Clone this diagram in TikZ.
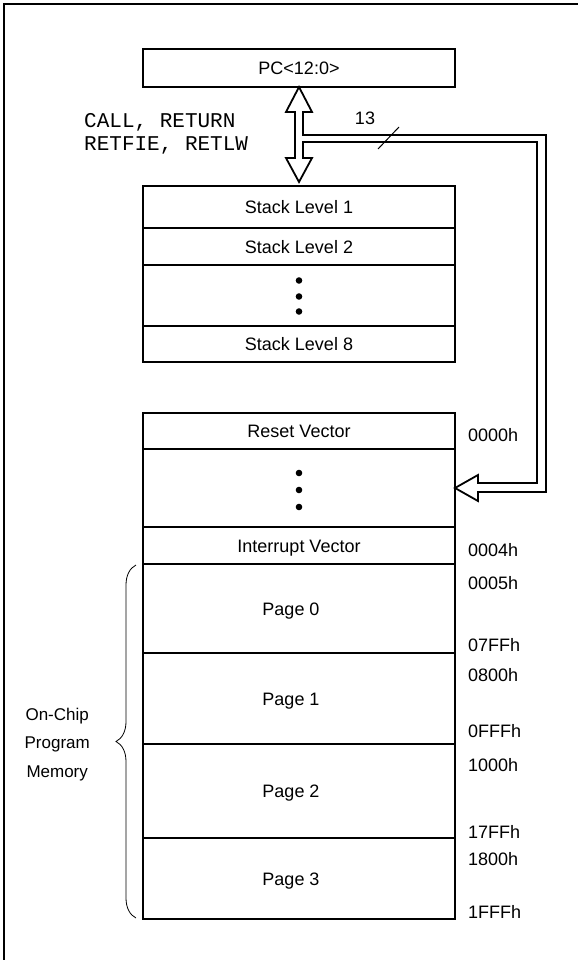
\documentclass[tikz,border=0pt]{standalone}
\usepackage{fontspec}
\setmainfont{Liberation Sans}
\setmonofont{Liberation Mono}
\usetikzlibrary{positioning,calc,decorations.pathreplacing}

\tikzset{
  cell/.style={draw, line width=1.8pt, minimum width=312pt, inner sep=0pt,
    outer sep=0pt, text height=13pt, text depth=0pt,
    font=\fontsize{18}{21}\selectfont},
  pagecell/.style={cell, execute at begin node=\hspace*{-16pt}},
  addr/.style={anchor=west, inner sep=0pt, text height=13pt, text depth=0pt,
    font=\fontsize{18}{21}\selectfont},
  opcode/.style={anchor=west, inner sep=0pt, text height=11.5pt, text depth=0pt,
    font=\fontsize{21}{23}\ttfamily},
  hollow/.style={line width=1.8pt, line join=miter},
  dotmark/.style={fill=black}
}

\begin{document}
\begin{tikzpicture}[x=1pt, y=-1pt]
    \useasboundingbox (0,0) rectangle (578,960);
    % the outer frame, only left and top edges are in view
    \draw[line width=1.5pt] (4,960) -- (4,4) -- (578,4);

    % the program counter
    \node[cell, minimum height=38pt] (pc) at (299,68) {PC<12:0>};

    % the stack
    \node[cell, minimum height=42pt, anchor=north] (s1) at (299,186) {Stack Level 1};
    \node[cell, minimum height=37pt, below=0pt of s1] (s2) {Stack Level 2};
    \node[cell, minimum height=61pt, below=0pt of s2] (sdots) {};
    \node[cell, minimum height=36pt, below=0pt of sdots] (s8) {Stack Level 8};

    % the program memory
    \node[cell, minimum height=36pt, anchor=north] (reset) at (299,413) {Reset Vector};
    \node[cell, minimum height=78pt, below=0pt of reset] (vdots) {};
    \node[cell, minimum height=37pt, below=0pt of vdots] (intv) {Interrupt Vector};
    \node[pagecell, minimum height=89pt, below=0pt of intv] (page0) {Page 0};
    \node[pagecell, minimum height=91pt, below=0pt of page0] (page1) {Page 1};
    \node[pagecell, minimum height=94pt, below=0pt of page1] (page2) {Page 2};
    \node[pagecell, minimum height=81pt, below=0pt of page2] (page3) {Page 3};

    % the dots in the stack and in the memory
    \foreach \dy in {-15,1,16}
    \fill[dotmark] ($(sdots.center)+(0,\dy)$) circle (3.3pt);
    \foreach \dy in {-15,2,19}
    \fill[dotmark] ($(vdots.center)+(0,\dy)$) circle (3.3pt);

    % the addresses on the right
    \foreach \adr/\yy in {0000h/435, 0004h/550, 0005h/583, 07FFh/645, 0800h/675,
        0FFFh/731, 1000h/765, 17FFh/832, 1800h/859, 1FFFh/912}
    \node[addr] (a\adr) at (468,\yy) {\adr};

    % the instructions next to the double arrow
    \node[opcode] (ops1) at (84,122) {CALL, RETURN};
    \node[opcode] (ops2) at (84,145) {RETFIE, RETLW};

    % tips of the hollow arrows
    \coordinate (uptip) at (pc.south);
    \coordinate (dntip) at ([yshift=4pt]s1.north);
    \coordinate (lftip) at (vdots.east);

    % double arrow PC <-> stack, with the 13 bit bus to the memory
    \draw[hollow] (uptip) -- ++(13,25) -- ++(-9,0) -- ++(0,23) -- ++(243,0)
        -- ++(0,357) -- ++(-68,0) -- ++(0,9) -- (lftip) -- ++(23,-13)
        -- ++(0,8) -- ++(59,0) -- ++(0,-341) -- ++(-234,0) -- ++(0,16)
        -- ++(9,0) -- (dntip) -- ++(-13,-24) -- ++(9,0) -- ++(0,-46)
        -- ++(-9,0) -- cycle;

    % the bus width mark
    \coordinate (busmark) at (388,138);
    \draw[line width=1pt] ($(busmark)+(-10,11)$) -- ++(21,-22);
    \node[addr, anchor=center] (buswidth) at (365,118) {13};

    % the brace and its label
    \draw[decorate, decoration={brace, amplitude=20pt}, line width=0.8pt]
        ([xshift=-7pt, yshift=1pt]page3.south west)
        -- ([xshift=-7pt, yshift=-1pt]page0.north west);
    \coordinate (bracetip) at ($(page0.north west)!0.5!(page3.south west)+(-27,0)$);
    \node[left=26pt of bracetip, yshift=-3pt, inner sep=0pt, align=center,
        font=\fontsize{17}{28.5}\selectfont] (memlbl) {On-Chip\\Program\\Memory};
\end{tikzpicture}
\end{document}
